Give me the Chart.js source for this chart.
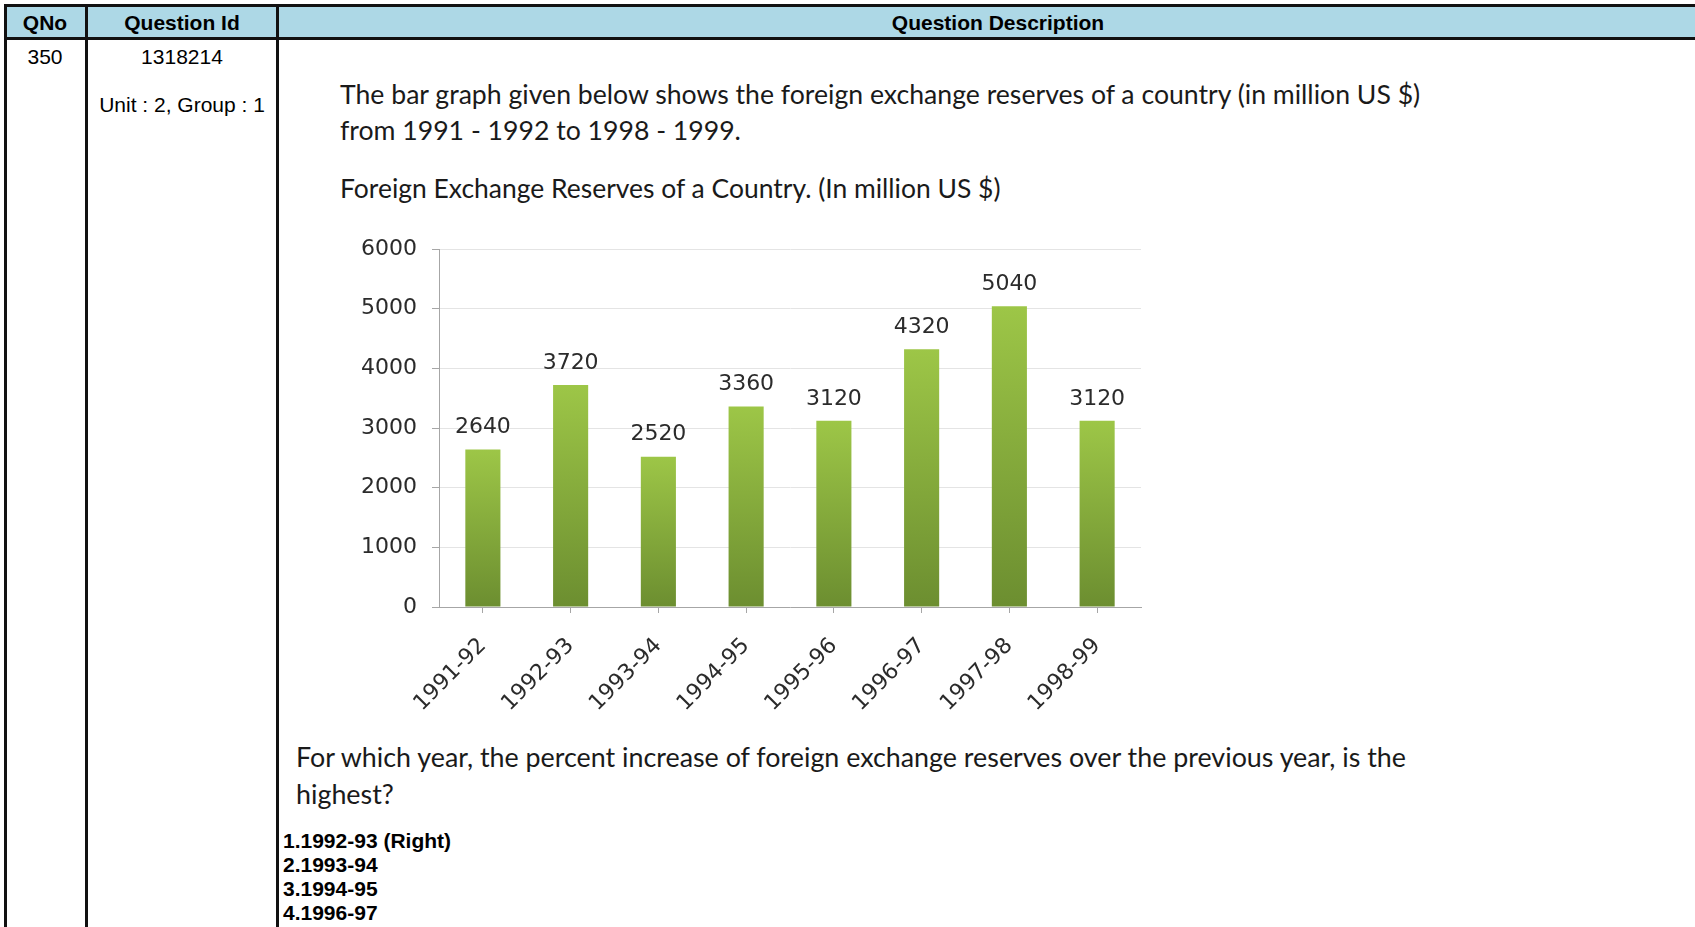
<!DOCTYPE html>
<html>
<head>
<meta charset="utf-8">
<script src="https://cdn.jsdelivr.net/npm/chart.js"></script>
<style>
  body { margin: 0; background: #fff; width: 1695px; height: 927px; overflow: hidden; position: relative;
         font-family: "Liberation Sans", Arial, sans-serif; }
  .bar { position: absolute; background: #111; }
  .cell { position: absolute; font-size: 21px; color: #000; white-space: nowrap; line-height: 1;
          transform: translate(-50%, -50%); }
  .hd { font-weight: bold; }
  .txt { position: absolute; font-family: Lato, sans-serif; color: #1a1a1a; white-space: nowrap;
         line-height: 1; transform: translateY(-50%); font-size: 24px; }
  .opt { position: absolute; left: 283px; font-weight: bold; font-size: 21px; white-space: nowrap;
         line-height: 1; transform: translateY(-50%); color: #000; }
  #chartBox { position: absolute; left: 300px; top: 200px; width: 860px; height: 540px; }
</style>
</head>
<body>
<!-- table frame -->
<div style="position:absolute;left:4px;top:4px;width:1691px;height:35px;background:#add8e6"></div>
<div class="bar" style="left:4px;top:4px;width:1691px;height:3px"></div>
<div class="bar" style="left:4px;top:37px;width:1691px;height:3px"></div>
<div class="bar" style="left:4px;top:4px;width:3px;height:923px"></div>
<div class="bar" style="left:85px;top:4px;width:3px;height:923px"></div>
<div class="bar" style="left:276px;top:4px;width:3px;height:923px"></div>

<div class="cell hd" style="left:45px;top:22px">QNo</div>
<div class="cell hd" style="left:182px;top:22px">Question Id</div>
<div class="cell hd" style="left:998px;top:22px">Question Description</div>
<div class="cell" style="left:45px;top:56px">350</div>
<div class="cell" style="left:182px;top:56px">1318214</div>
<div class="cell" style="left:182px;top:104px">Unit : 2, Group : 1</div>

<div class="txt" id="p1" data-w="1081" style="left:340px;top:94px">The bar graph given below shows the foreign exchange reserves of a country (in million US $)</div>
<div class="txt" id="p2" style="left:340px;top:130px">from 1991 - 1992 to 1998 - 1999.</div>
<div class="txt" id="t1" data-w="661" style="left:340px;top:188px">Foreign Exchange Reserves of a Country. (In million US $)</div>
<div class="txt" id="q1" data-w="1110" style="left:296px;top:757px">For which year, the percent increase of foreign exchange reserves over the previous year, is the</div>
<div class="txt" id="q2" style="left:296px;top:794px">highest?</div>

<div class="opt" style="top:840px">1.1992-93 (Right)</div>
<div class="opt" style="top:864px">2.1993-94</div>
<div class="opt" style="top:888px">3.1994-95</div>
<div class="opt" style="top:912px">4.1996-97</div>

<div id="chartBox"><canvas id="myChart"></canvas></div>

<script>
'use strict';

const years = ['1991-92', '1992-93', '1993-94', '1994-95', '1995-96', '1996-97', '1997-98', '1998-99'];
const reserves = [2640, 3720, 2520, 3360, 3120, 4320, 5040, 3120];
const yMin = 0;
const yMax = 6000;
const yStep = 1000;

// size the Calibri-like lines so they span what the picture shows
function fitText() {
  let pairs = [['p1', 'p2'], ['t1', null], ['q1', 'q2']];
  for (let i = 0; i < pairs.length; i++) {
    let el = document.getElementById(pairs[i][0]);
    el.style.fontSize = '24px';
    let size = 24 * Number(el.dataset.w) / el.offsetWidth;
    el.style.fontSize = size + 'px';
    if (pairs[i][1]) {
      document.getElementById(pairs[i][1]).style.fontSize = size + 'px';
    }
  }
}
fitText();

const labelFont = { family: 'DejaVu Sans', size: 22 };
const textGrey = '#2b2b2b';

// value labels above each bar
const barLabels = {
  id: 'barLabels',
  afterDatasetsDraw(chart) {
    const c = chart.ctx;
    const meta = chart.getDatasetMeta(0);
    c.save();
    c.font = labelFont.size + 'px "' + labelFont.family + '"';
    c.fillStyle = textGrey;
    c.textAlign = 'center';
    c.textBaseline = 'middle';
    meta.data.forEach(function (bar, i) {
      c.fillText(String(reserves[i]), bar.x, bar.y - 22);
    });
    c.restore();
  }
};

function barFill(context) {
  const chart = context.chart;
  if (!chart.chartArea || context.raw === undefined) {
    return '#86ad3c';
  }
  const yScale = chart.scales.y;
  const top = yScale.getPixelForValue(context.raw);
  const bottom = yScale.getPixelForValue(0);
  const g = chart.ctx.createLinearGradient(0, top, 0, bottom);
  g.addColorStop(0, '#9dc647');
  g.addColorStop(1, '#6c8e30');
  return g;
}

const ctx = document.getElementById('myChart');

let mainChart = new Chart(ctx, {
  type: 'bar',
  data: {
    labels: years,
    datasets: [{
      label: 'Reserves',
      data: reserves,
      backgroundColor: barFill,
      borderWidth: 0,
      barPercentage: 0.4,
      categoryPercentage: 1
    }]
  },
  plugins: [barLabels],
  options: {
    responsive: true,
    maintainAspectRatio: false,
    animation: false,
    layout: { padding: { top: 49, right: 19, left: 0, bottom: 0 } },
    plugins: {
      legend: { display: false },
      tooltip: { enabled: false }
    },
    scales: {
      x: {
        afterFit: function (scale) { scale.height = 133; },
        offset: true,
        grid: {
          offset: false,
          drawOnChartArea: false,
          drawTicks: true,
          tickLength: 6,
          color: '#a6a6a6'
        },
        border: { color: '#a6a6a6', width: 1 },
        ticks: {
          minRotation: 45,
          maxRotation: 45,
          padding: 20,
          color: textGrey,
          font: labelFont
        }
      },
      y: {
        min: yMin,
        max: yMax,
        afterFit: function (scale) { scale.width = 139; },
        grid: {
          color: '#e4e4e4',
          tickColor: '#a6a6a6',
          tickLength: 7
        },
        border: { color: '#a6a6a6', width: 1 },
        ticks: {
          stepSize: yStep,
          padding: 15,
          color: textGrey,
          font: labelFont,
          callback: function (value) { return String(value); }
        }
      }
    }
  }
});
</script>
</body>
</html>
